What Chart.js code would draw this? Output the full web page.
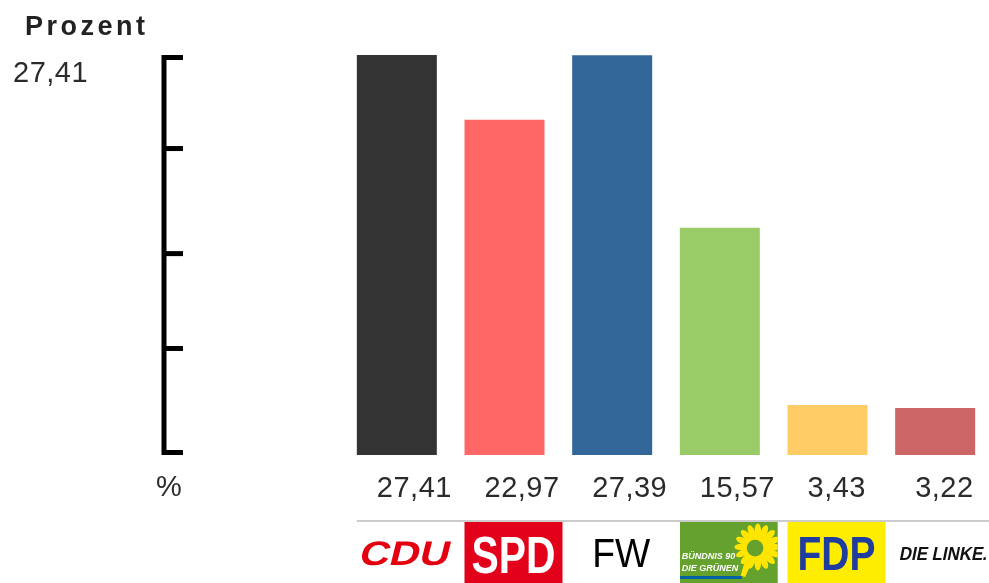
<!DOCTYPE html>
<html>
<head>
<meta charset="utf-8">
<script src="https://cdn.jsdelivr.net/npm/chart.js@4/dist/chart.umd.min.js"></script>
<style>
    body { margin: 0; background: #fff; overflow: hidden; }
    canvas { display: block; }
</style>
</head>
<body>
<canvas id="myChart" width="989" height="583"></canvas>
<script>
const categories = ['CDU', 'SPD', 'FW', 'GRÜNE', 'FDP', 'DIE LINKE.'];
const values = [27.41, 22.97, 27.39, 15.57, 3.43, 3.22];
const barColors = ['#333333', '#ff6666', '#336699', '#99cc66', '#ffcc66', '#cc6666'];
const axisTicks = [27.41, 21.0, 13.8, 7.3, 0];
const axisTopLabel = '27,41';
const unitLabel = '%';
const titleText = 'Prozent';

const FONT = '"Liberation Sans", Arial, sans-serif';

function fmt(v) {
    return v.toFixed(2).replace('.', ',');
}

// draw text centred on (cx, cy) squeezed/stretched to a given width
function fitText(ctx, text, cx, cy, width, size, style, color) {
    ctx.save();
    ctx.font = style + ' ' + size + 'px ' + FONT;
    const w = ctx.measureText(text).width;
    ctx.translate(cx, cy);
    ctx.scale(width / w, 1);
    ctx.textAlign = 'center';
    ctx.textBaseline = 'alphabetic';
    ctx.fillStyle = color;
    ctx.fillText(text, 0, size * 0.36);
    ctx.restore();
}

function drawSun(ctx, cx, cy, r) {
    ctx.save();
    ctx.fillStyle = '#ffe500';
    for (let i = 0; i < 16; i++) {
        const a = i * Math.PI / 8;
        ctx.beginPath();
        ctx.ellipse(cx + Math.cos(a) * r * 0.72, cy + Math.sin(a) * r * 0.72, r * 0.3, r * 0.14, a, 0, Math.PI * 2);
        ctx.fill();
    }
    ctx.beginPath();
    ctx.arc(cx, cy, r * 0.62, 0, Math.PI * 2);
    ctx.fill();
    ctx.fillStyle = '#64a12d';
    ctx.beginPath();
    ctx.arc(cx - r * 0.12, cy + r * 0.05, r * 0.36, 0, Math.PI * 2);
    ctx.fill();
    // stem
    ctx.fillStyle = '#ffe500';
    ctx.beginPath();
    ctx.moveTo(cx - r * 0.5, cy + r * 0.4);
    ctx.lineTo(cx - r * 0.2, cy + r * 0.5);
    ctx.lineTo(cx - r * 0.55, cy + r * 1.3);
    ctx.lineTo(cx - r * 0.75, cy + r * 1.25);
    ctx.closePath();
    ctx.fill();
    ctx.restore();
}

const decorPlugin = {
    id: 'decor',
    afterDraw(chart) {
        const ctx = chart.ctx;
        const y = chart.scales.y;
        const bars = chart.getDatasetMeta(0).data;

        // bracket style axis
        const x0 = 164, x1 = 183;
        const yTop = y.getPixelForValue(axisTicks[0]) + 2.5;
        const yBot = y.getPixelForValue(axisTicks[axisTicks.length - 1]) - 2.5;
        ctx.save();
        ctx.strokeStyle = '#000';
        ctx.lineWidth = 5;
        ctx.lineJoin = 'miter';
        ctx.beginPath();
        ctx.moveTo(x1, yTop);
        ctx.lineTo(x0, yTop);
        ctx.lineTo(x0, yBot);
        ctx.lineTo(x1, yBot);
        ctx.stroke();
        axisTicks.slice(1, -1).forEach(t => {
            const p = y.getPixelForValue(t);
            ctx.beginPath();
            ctx.moveTo(x0, p);
            ctx.lineTo(x1, p);
            ctx.stroke();
        });
        ctx.restore();

        // texts
        ctx.save();
        ctx.fillStyle = '#222';
        ctx.textBaseline = 'middle';
        ctx.font = 'bold 27px ' + FONT;
        ctx.letterSpacing = '3.5px';
        ctx.textAlign = 'left';
        ctx.fillText(titleText, 25, 28);
        ctx.fillStyle = '#2b2b2b';
        ctx.font = '29px ' + FONT;
        ctx.letterSpacing = '0.5px';
        ctx.fillText(axisTopLabel, 13, 74);
        ctx.letterSpacing = '0px';
        ctx.textAlign = 'center';
        ctx.fillText(unitLabel, 169, 488);
        ctx.textAlign = 'left';
        ctx.letterSpacing = '0.5px';
        bars.forEach((b, i) => {
            ctx.fillText(fmt(values[i]), b.x - b.width / 2 + 20, 489);
        });
        ctx.restore();

        // separator line
        ctx.save();
        ctx.fillStyle = '#cccccc';
        ctx.fillRect(bars[0].x - bars[0].width / 2, 520, 989, 2);
        ctx.restore();

        // party logos
        const top = 522, h = 61, w = 98;
        bars.forEach((b, i) => {
            const left = b.x - b.width / 2;
            const cx = left + w / 2;
            const cy = 553;
            if (i === 0) {
                ctx.save();
                ctx.translate(cx, cy);
                ctx.transform(1, 0, -0.25, 1, 0, 0);
                fitText(ctx, 'CDU', 0, 0, 90, 34, 'bold', '#e3000f');
                ctx.restore();
            } else if (i === 1) {
                ctx.fillStyle = '#e2001a';
                ctx.fillRect(left, top, w, h);
                fitText(ctx, 'SPD', cx, cy + 1, 84, 52, 'bold', '#ffffff');
            } else if (i === 2) {
                fitText(ctx, 'FW', cx, cy, 58, 40, '', '#000000');
            } else if (i === 3) {
                ctx.save();
                ctx.beginPath();
                ctx.rect(left, top, w, h);
                ctx.clip();
                ctx.fillStyle = '#64a12d';
                ctx.fillRect(left, top, w, h);
                drawSun(ctx, left + 78, 547, 23);
                ctx.fillStyle = '#ffffff';
                ctx.font = 'italic bold 9px ' + FONT;
                ctx.textAlign = 'left';
                ctx.textBaseline = 'middle';
                ctx.fillText('BÜNDNIS 90', left + 2, 557);
                ctx.fillText('DIE GRÜNEN', left + 2, 569);
                ctx.fillStyle = '#0062a5';
                ctx.fillRect(left, 576, 62, 3);
                ctx.restore();
            } else if (i === 4) {
                ctx.fillStyle = '#ffed00';
                ctx.fillRect(left, top, w, h);
                fitText(ctx, 'FDP', cx, cy, 78, 48, 'bold', '#1f3c9e');
            } else {
                ctx.save();
                ctx.translate(cx, cy);
                ctx.transform(1, 0, -0.2, 1, 0, 0);
                fitText(ctx, 'DIE LINKE.', 0, 0, 88, 19, 'bold', '#111111');
                ctx.restore();
            }
        });
    }
};

new Chart(document.getElementById('myChart'), {
    type: 'bar',
    data: {
        labels: categories,
        datasets: [{
            data: values,
            backgroundColor: barColors,
            borderWidth: 0,
            barPercentage: 0.743,
            categoryPercentage: 1
        }]
    },
    options: {
        responsive: false,
        animation: false,
        layout: {
            padding: { left: 343, right: 0, top: 55, bottom: 128 }
        },
        plugins: {
            legend: { display: false },
            title: { display: false },
            tooltip: { enabled: false }
        },
        scales: {
            x: { display: false },
            y: { display: false, min: 0, max: 27.41 }
        }
    },
    plugins: [decorPlugin]
});
</script>
</body>
</html>
